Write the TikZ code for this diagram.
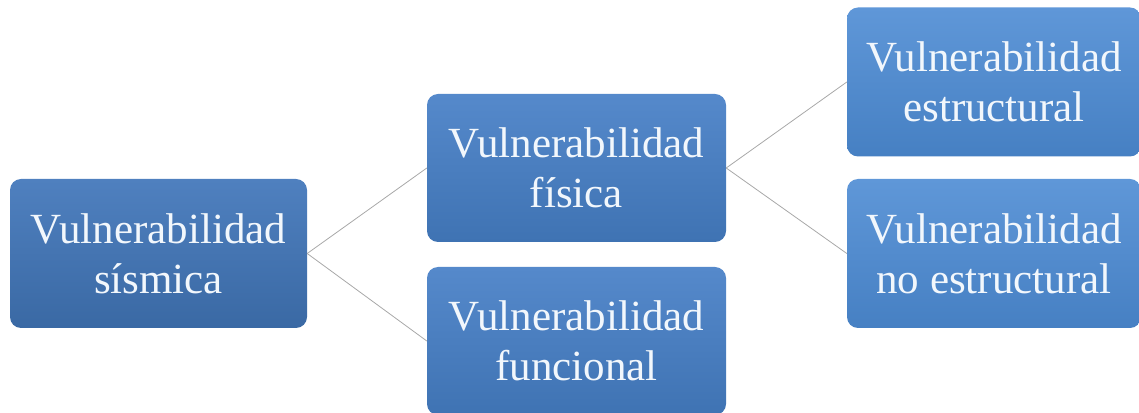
\documentclass[tikz,border=0pt]{standalone}
\usepackage{fontspec}
\setmainfont{Liberation Serif}
\definecolor{lTop}{HTML}{4F80BF}
\definecolor{lBot}{HTML}{3A69A4}
\definecolor{mTop}{HTML}{5589CB}
\definecolor{mBot}{HTML}{3F73B3}
\definecolor{rTop}{HTML}{5F97D8}
\definecolor{rBot}{HTML}{4680C3}
\definecolor{conn}{HTML}{A8A8A8}
\definecolor{txt}{HTML}{F2F7FC}
\tikzset{
  box/.style={rounded corners=11pt, inner sep=0pt, align=center, text=txt,
    font=\fontsize{43}{50}\selectfont},
  lbox/.style={box, top color=lTop, bottom color=lBot, minimum width=297pt, minimum height=149pt},
  mbox/.style={box, top color=mTop, bottom color=mBot, minimum width=299pt, minimum height=148pt},
  rbox/.style={box, top color=rTop, bottom color=rBot, minimum width=294pt, minimum height=149pt},
  link/.style={draw=conn, line width=0.8pt}
}
\begin{document}
\begin{tikzpicture}[x=1pt,y=1pt]
\useasboundingbox (0,0) rectangle (1139,412);
\node[lbox] (sis) at (158.5,158.5) {Vulnerabilidad\\sísmica};
\node[mbox] (fis) at (576.5,244) {Vulnerabilidad\\física};
\node[mbox] (fun) at (576.5,71) {Vulnerabilidad\\funcional};
\node[rbox] (est) at (994,330) {Vulnerabilidad\\estructural};
\node[rbox] (noe) at (994,158.5) {Vulnerabilidad\\no estructural};
\draw[link] (sis.east) -- (fis.west);
\draw[link] (sis.east) -- (fun.west);
\draw[link] (fis.east) -- (est.west);
\draw[link] (fis.east) -- (noe.west);
\end{tikzpicture}
\end{document}
